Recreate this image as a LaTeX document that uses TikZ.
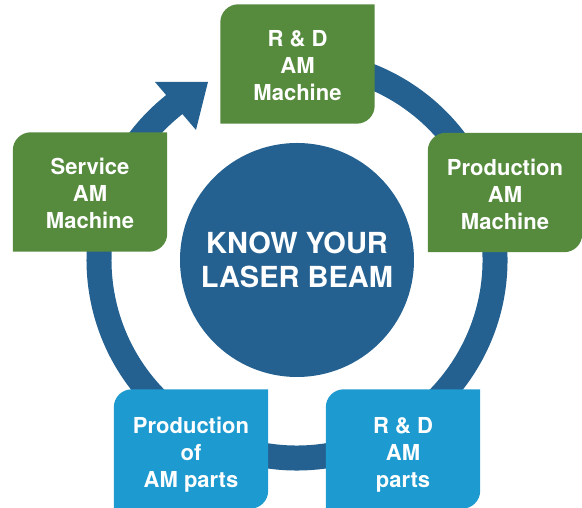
\documentclass[tikz,border=0pt]{standalone}
\usepackage{fontspec}
\setmainfont{TeX Gyre Heros}
\usetikzlibrary{backgrounds}
\definecolor{ringblue}{RGB}{36,97,145}
\definecolor{boxgreen}{RGB}{86,139,62}
\definecolor{boxcyan}{RGB}{29,154,207}
\newcommand\tabshape[2]{\fill[#2] (#1.south west) -- ([yshift=-18pt]#1.north west) arc[start angle=180,end angle=90,radius=18pt] -- (#1.north east) -- ([yshift=18pt]#1.south east) arc[start angle=0,end angle=-90,radius=18pt] -- cycle;}
\begin{document}
\begin{tikzpicture}[x=1pt,y=1pt,
  box/.style={minimum width=154pt,minimum height=119pt,inner sep=0pt},
  lbl/.style={text=white,font=\fontsize{22}{27}\selectfont\bfseries,align=center,inner sep=0pt},
  corelbl/.style={text=white,font=\fontsize{29}{34}\selectfont\bfseries,align=center,inner sep=0pt}]
\useasboundingbox (0,0) rectangle (582,508);
\node[box] (rdm) at (297.5,444) {};
\node[box] (pam) at (505,315.5) {};
\node[box] (sam) at (90,316) {};
\node[box] (pap) at (191,59) {};
\node[box] (rdp) at (403,59) {};
\node[lbl,yshift=-1.5pt] (trdm) at (rdm.center) {R \& D\\AM\\Machine};
\node[lbl,yshift=-1.5pt] (tpam) at (pam.center) {Production\\AM\\Machine};
\node[lbl,yshift=-1.5pt] (tsam) at (sam.center) {Service\\AM\\Machine};
\node[lbl,yshift=-6pt] (tpap) at (pap.center) {Production\\of\\AM parts};
\node[lbl,yshift=-6pt] (trdp) at (rdp.center) {R \& D\\AM\\parts};
\node[circle,fill=ringblue,minimum size=234pt,inner sep=0pt] (core) at (297,248) {};
\node[corelbl] (tcore) at (core.center) {KNOW YOUR\\LASER BEAM};
\begin{scope}[on background layer]
\coordinate (c) at (297,248);
\draw[ringblue,line width=25pt] (c) ++(100:198) arc[start angle=100,end angle=-232,radius=198];
\fill[ringblue] (155,426) -- (208,426) -- (196,378) -- cycle;
\tabshape{rdm}{boxgreen}
\tabshape{pam}{boxgreen}
\tabshape{sam}{boxgreen}
\tabshape{pap}{boxcyan}
\tabshape{rdp}{boxcyan}
\end{scope}
\end{tikzpicture}
\end{document}
